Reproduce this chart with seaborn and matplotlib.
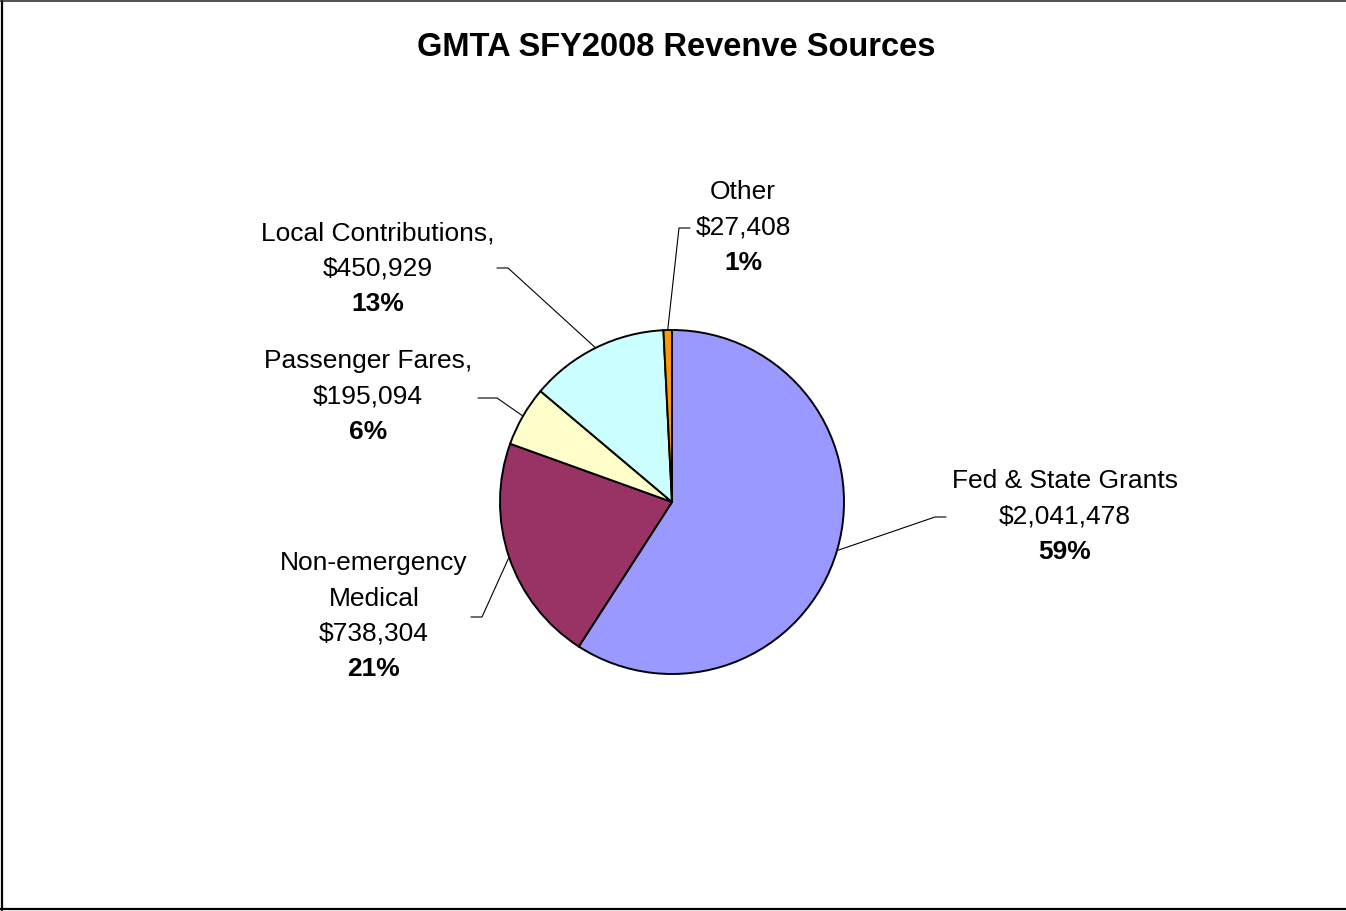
import numpy as np
import matplotlib
matplotlib.use("Agg")
import matplotlib.pyplot as plt
import seaborn as sns

# Revenue sources (clockwise from 12 o'clock)
label_text = ["Fed & State Grants", "Non-emergency\nMedical", "Passenger Fares,",
              "Local Contributions,", "Other"]
revenue = [2041478, 738304, 195094, 450929, 27408]
slice_colors = ["#9999FF", "#993366", "#FFFFCC", "#CCFFFF", "#FF9900"]
title = "GMTA SFY2008 Revenve Sources"

sns.set_theme(style="white")
plt.rcParams["font.family"] = ["Liberation Sans", "DejaVu Sans"]
plt.rcParams["text.color"] = "black"

W, H = 1346, 911
fig = plt.figure(figsize=(W / 100, H / 100), dpi=100)
ax = fig.add_axes([0, 0, 1, 1])


def fy(y):
    # pixel row (from top) -> data y (from bottom)
    return H - y


cx, cy, r = 672, 502, 172
palette = sns.color_palette(slice_colors)
wedges, _ = ax.pie(revenue, colors=palette, startangle=90, counterclock=False,
                   center=(cx, fy(cy)), radius=r, frame=True,
                   wedgeprops=dict(edgecolor="black", linewidth=1.4))
ax.set_xlim(0, W)
ax.set_ylim(0, H)
ax.set_aspect("equal")
ax.axis("off")

total = sum(revenue)

# label layout: (text centre x, first line y, elbow point, tick end point) in pixel rows
layout = [
    (1065, 481, (935, 517), (946, 517)),
    (374, 563, (482, 617), (471, 617)),
    (368, 361, (497, 398), (478, 398)),
    (378, 233, (508, 268), (497, 268)),
    (743, 192, (679, 228), (690, 228)),
]
pitch = 35.5
fs = 19

for w, name, val, (tx, ty, elbow, tick) in zip(wedges, label_text, revenue, layout):
    mid = np.deg2rad((w.theta1 + w.theta2) / 2)
    px, py = cx + r * np.cos(mid), fy(cy) + r * np.sin(mid)
    ax.plot([px, elbow[0], tick[0]], [py, fy(elbow[1]), fy(tick[1])],
            color="black", lw=0.8, zorder=1)
    lines = name.split("\n") + [f"${val:,.0f}"]
    for i, line in enumerate(lines):
        ax.text(tx, fy(ty + i * pitch), line, ha="center", va="center",
                fontsize=fs, color="black")
    pct = round(val / total * 100)
    ax.text(tx, fy(ty + len(lines) * pitch), f"{pct}%", ha="center", va="center",
            fontsize=fs, fontweight="bold", color="black")

ax.text(676, fy(48), title, ha="center", va="center", fontsize=23.5,
        fontweight="bold", color="black")

# chart frame: left, top and bottom edges only (right edge is cropped off)
ax.plot([1.5, 1.5], [fy(0), fy(910)], color="black", lw=1.6, clip_on=False)
ax.plot([0, W], [fy(0.5), fy(0.5)], color="#333333", lw=1.2, clip_on=False)
ax.plot([0, W], [fy(909), fy(909)], color="black", lw=1.6, clip_on=False)

fig.savefig("out.png", dpi=100, facecolor="white")
